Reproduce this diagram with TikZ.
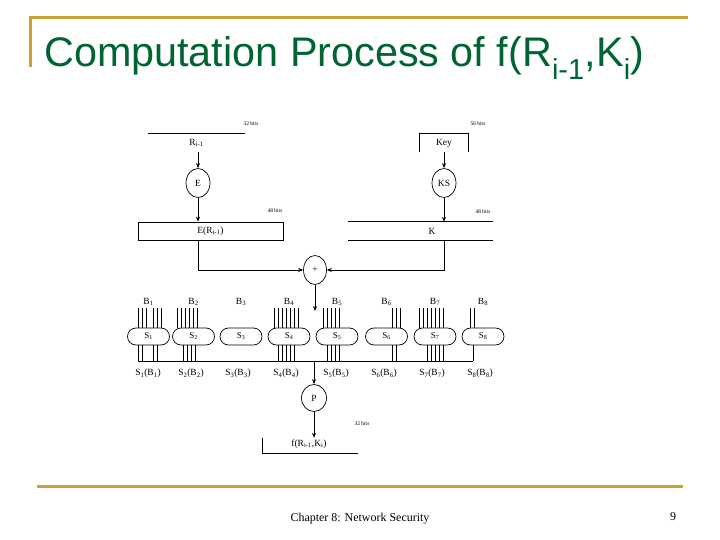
\documentclass[tikz,border=0pt]{standalone}
\usepackage{fontspec}
\setmainfont{Liberation Serif}
\newfontfamily\titlefont{Liberation Sans}
\usetikzlibrary{arrows.meta,shapes.geometric,shapes.misc}
\definecolor{gold}{RGB}{200,162,50}
\definecolor{titlegreen}{RGB}{0,100,50}
\tikzset{
  goldline/.style={draw=gold,line width=3bp},
  wire/.style={line width=0.7bp},
  arr/.style={wire,-{Stealth[length=5bp,width=4bp]}},
  lbl/.style={font=\fontsize{9.5}{11}\selectfont,inner sep=1bp},
  tinylbl/.style={font=\fontsize{5.5}{6}\selectfont,inner sep=0bp},
  ell/.style={ellipse,draw,wire,minimum width=24bp,minimum height=29bp,inner sep=0bp,font=\fontsize{9.5}{11}\selectfont},
  sbox/.style={rounded rectangle,draw,wire,minimum width=42bp,minimum height=17bp,inner sep=0bp,font=\fontsize{9}{11}\selectfont},
  bar/.style={inner sep=0bp,font=\fontsize{9.5}{11}\selectfont},
}
\begin{document}
\begin{tikzpicture}[x=1bp,y=-1bp]
\useasboundingbox (0,0) rectangle (720,540);
% frame lines
\draw[goldline] (30,18) -- (688,18);
\draw[goldline] (30,16.5) -- (30,67);
\draw[goldline] (37,486) -- (683,486);
% title
\node[anchor=base west,inner sep=0bp,text=titlegreen,font=\titlefont\fontsize{41.5}{44}\selectfont] (title) at (44,67)
  {Computation Process of f(R\textsubscript{i-1},K\textsubscript{i})};
% footer
\node[font=\fontsize{12}{14}\selectfont,anchor=base] (footer) at (360,521) {Chapter 8: Network Security};
\node[font=\fontsize{12}{14}\selectfont,anchor=base] (pagenum) at (673,520) {9};

% --- R side
\node[bar,minimum width=97bp,minimum height=18bp] (Rbar) at (196.5,143) {R\textsubscript{i-1}};
\draw[wire] (Rbar.north west) -- (Rbar.north east);
\node[tinylbl] (b32a) at (251,124) {32 bits};
\node[ell] (E) at (198,183) {E};
\draw[arr] (Rbar.south -| E) -- (E.north);
\node[bar,draw,wire,minimum width=145bp,minimum height=18bp] (ER) at (210.5,231) {E(R\textsubscript{i-1})};
\node[tinylbl] (b48a) at (275,211) {48 bits};
\draw[arr] (E.south) -- (E |- ER.north);

% --- Key side
\node[bar,minimum width=48bp,minimum height=18bp] (Key) at (444,143) {Key};
\draw[wire] (Key.south west) |- (Key.north east) -- (Key.south east);
\node[tinylbl] (b56) at (478,124) {56 bits};
\node[ell] (KS) at (444,183) {KS};
\draw[arr] (Key.south) -- (KS.north);
\node[bar,minimum width=145bp,minimum height=18bp] (K) at (420.5,231) {};
\node[bar] (Klbl) at (432,231) {K};
\draw[wire] (K.north west) -- (K.north east);
\draw[wire] (K.south west) -- (K.south east);
\node[tinylbl] (b48b) at (483,212) {48 bits};
\draw[arr] (KS.south) -- (KS |- K.north);

% --- XOR
\node[ell,minimum width=23bp,minimum height=29bp] (plus) at (315,270) {+};
\draw[arr] (ER.south -| E) |- (plus.west);
\draw[arr] (K.south -| KS) |- (plus.east);
\coordinate (xorend) at (315,311);
\draw[arr] (plus.south) -- (xorend);

% --- S boxes
\foreach \i/\cx in {1/148.5,2/193.5,3/241,4/289,5/337,6/386.5,7/435,8/483}{
  \node[lbl] (B\i) at (\cx,302) {B\textsubscript{\i}};
  \node[sbox] (S\i) at (\cx,336.5) {S\textsubscript{\i}};
}
\foreach \i/\cx in {1/148,2/191,3/238,4/286,5/336,6/384,7/432,8/480}{
  \node[lbl] (SB\i) at (\cx,373.5) {S\textsubscript{\i}(B\textsubscript{\i})};
}
% input wires
\foreach \x in {138,142,146,153,157,161} \draw[wire] (\x,308) -- (\x,0 |- S1.north);
\foreach \x in {177,181,185,189,193,197} \draw[wire] (\x,308) -- (\x,0 |- S2.north);
\foreach \x in {274,278,282,286,290,294,298} \draw[wire] (\x,308) -- (\x,0 |- S4.north);
\foreach \x in {323,327,331,335,339} \draw[wire] (\x,308) -- (\x,0 |- S5.north);
\foreach \x in {392,396,400} \draw[wire] (\x,308) -- (\x,0 |- S6.north);
\foreach \x in {419,423,427,431,435,439,443} \draw[wire] (\x,308) -- (\x,0 |- S7.north);
\foreach \x in {470,474} \draw[wire] (\x,308) -- (\x,0 |- S8.north);
% output wires
\coordinate (busL) at (138,361);
\coordinate (busR) at (473,361);
\draw[wire] (busL) -- (busR);
\foreach \x in {138,142,153,157} \draw[wire] (\x,0 |- S1.south) -- (\x,0 |- busL);
\foreach \x in {183,187,191,195} \draw[wire] (\x,0 |- S2.south) -- (\x,0 |- busL);
\foreach \x in {278,282,286,290,294} \draw[wire] (\x,0 |- S4.south) -- (\x,0 |- busL);
\foreach \x in {327,331,335,339} \draw[wire] (\x,0 |- S5.south) -- (\x,0 |- busL);
\foreach \x in {392,396} \draw[wire] (\x,0 |- S6.south) -- (\x,0 |- busL);
\foreach \x in {427,431,435,439,443} \draw[wire] (\x,0 |- S7.south) -- (\x,0 |- busL);
\foreach \x in {473} \draw[wire] (\x,0 |- S8.south) -- (\x,0 |- busL);

% --- P
\node[ell,minimum width=25bp,minimum height=27bp] (P) at (314,398) {P};
\draw[arr] (P |- busL) -- (P.north);
\node[tinylbl] (b32b) at (362,424) {32 bits};
\node[bar,minimum width=95bp,minimum height=15bp] (fbox) at (310.5,445.5) {};
\node[bar] (flbl) at (309,444) {f(R\textsubscript{i-1},K\textsubscript{i})};
\draw[wire] (fbox.north west) -- (fbox.south west) -- (fbox.south east);
\draw[arr] (P.south) -- (P |- fbox.north);
\end{tikzpicture}
\end{document}
